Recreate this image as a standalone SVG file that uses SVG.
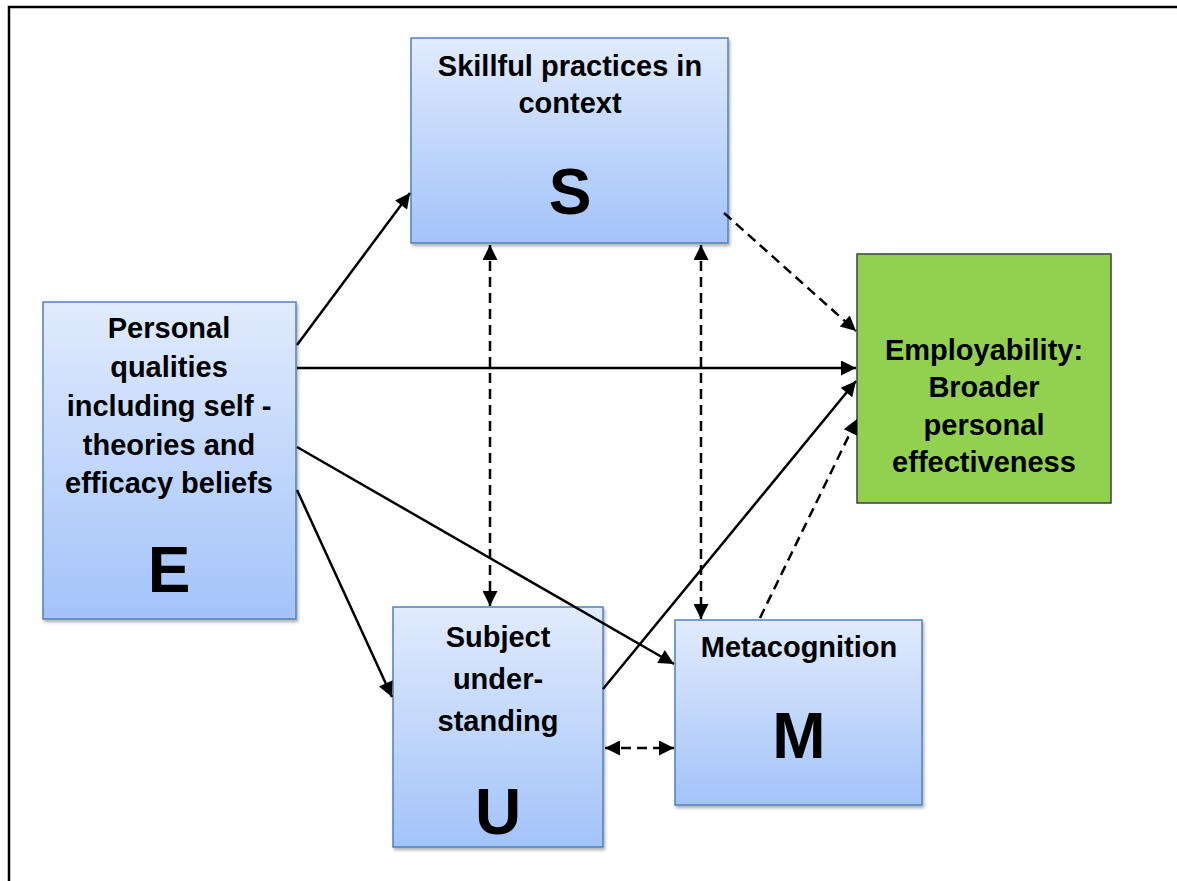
<svg xmlns="http://www.w3.org/2000/svg" width="1177" height="881" viewBox="0 0 1177 881">
<defs>
<linearGradient id="blue" x1="0" y1="0" x2="0" y2="1">
<stop offset="0" stop-color="#E1EBFD"/>
<stop offset="1" stop-color="#A3C3F9"/>
</linearGradient>
<filter id="sh" x="-10%" y="-10%" width="120%" height="120%">
<feDropShadow dx="1.5" dy="2.5" stdDeviation="1.5" flood-color="#000" flood-opacity="0.3"/>
</filter>
<marker id="ah" viewBox="0 0 10 10" refX="10" refY="5" markerWidth="7" markerHeight="6" markerUnits="strokeWidth" orient="auto-start-reverse">
<path d="M0,0 L10,5 L0,10 z" fill="#000"/>
</marker>
<style>
.box{fill:url(#blue);stroke:#4F81BD;stroke-width:1.5;filter:url(#sh)}
.green{fill:#92D050;stroke:#3F3F3F;stroke-width:1.5}
.t{font-family:"Liberation Sans",Arial,sans-serif;font-weight:bold;font-size:29px;text-anchor:middle;fill:#000}
.big{font-family:"Liberation Sans",Arial,sans-serif;font-weight:bold;font-size:64px;text-anchor:middle;fill:#000}
.c{stroke:#000;stroke-width:2.5;fill:none}
.d{stroke-dasharray:10 6}
</style>
</defs>
<rect width="1177" height="881" fill="#fff"/>
<path d="M9,881 V7 H1177" fill="none" stroke="#000" stroke-width="2.5"/>

<g id="node-S">
<rect class="box" x="411" y="38" width="317" height="205"/>
<text class="t" x="570" y="76">Skillful practices in</text>
<text class="t" x="570" y="113">context</text>
<text class="big" x="570" y="214">S</text>
</g>
<g id="node-E">
<rect class="box" x="43" y="302" width="253" height="317"/>
<text class="t" x="169" y="338">Personal</text>
<text class="t" x="169" y="377">qualities</text>
<text class="t" x="169" y="416">including self -</text>
<text class="t" x="169" y="455">theories and</text>
<text class="t" x="169" y="493">efficacy beliefs</text>
<text class="big" x="169" y="592">E</text>
</g>
<g id="node-U">
<rect class="box" x="393" y="607" width="210" height="240"/>
<text class="t" x="498" y="647">Subject</text>
<text class="t" x="498" y="689">under-</text>
<text class="t" x="498" y="731">standing</text>
<text class="big" x="498" y="834">U</text>
</g>
<g id="node-M">
<rect class="box" x="675" y="620" width="247" height="185"/>
<text class="t" x="799" y="657">Metacognition</text>
<text class="big" x="799" y="758">M</text>
</g>
<g id="node-Emp">
<rect class="green" x="857" y="254" width="254" height="249"/>
<text class="t" x="984" y="360">Employability:</text>
<text class="t" x="984" y="397">Broader</text>
<text class="t" x="984" y="435">personal</text>
<text class="t" x="984" y="472">effectiveness</text>
</g>

<g id="connectors">
<line class="c" x1="297" y1="345" x2="410" y2="193" marker-end="url(#ah)"/>
<line class="c" x1="297" y1="368" x2="856" y2="368" marker-end="url(#ah)"/>
<line class="c" x1="297" y1="447" x2="674" y2="664" marker-end="url(#ah)"/>
<line class="c" x1="297" y1="490" x2="392" y2="697" marker-end="url(#ah)"/>
<line class="c" x1="603" y1="689" x2="856" y2="381" marker-end="url(#ah)"/>
<line class="c d" x1="724" y1="213" x2="856" y2="331" marker-end="url(#ah)"/>
<line class="c d" x1="760" y1="618" x2="857" y2="419" marker-end="url(#ah)"/>
<line class="c d" x1="490" y1="245" x2="490" y2="606" marker-start="url(#ah)" marker-end="url(#ah)"/>
<line class="c d" x1="701" y1="245" x2="701" y2="619" marker-start="url(#ah)" marker-end="url(#ah)"/>
<line class="c d" x1="605" y1="748" x2="674" y2="748" marker-start="url(#ah)" marker-end="url(#ah)"/>
</g>
</svg>
